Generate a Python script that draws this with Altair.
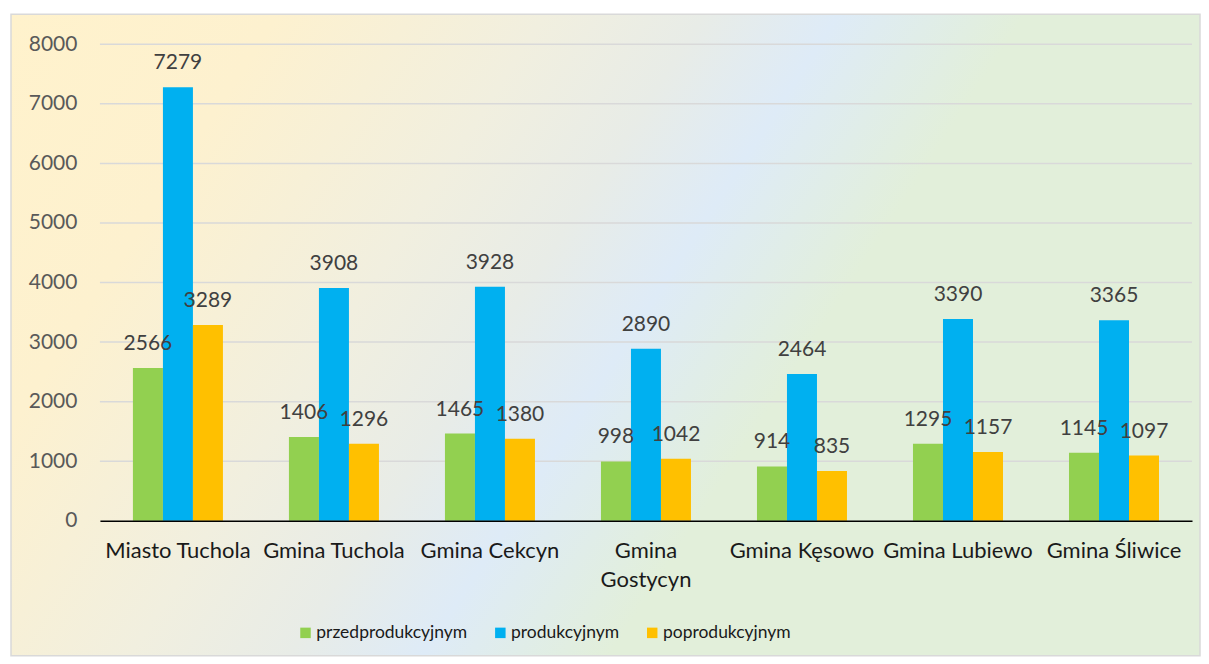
import altair as alt
import pandas as pd

categories = ["Miasto Tuchola", "Gmina Tuchola", "Gmina Cekcyn", "Gmina Gostycyn",
              "Gmina Kęsowo", "Gmina Lubiewo", "Gmina Śliwice"]
series = ["przedprodukcyjnym", "produkcyjnym", "poprodukcyjnym"]
przedprodukcyjnym = [2566, 1406, 1465, 998, 914, 1295, 1145]
produkcyjnym = [7279, 3908, 3928, 2890, 2464, 3390, 3365]
poprodukcyjnym = [3289, 1296, 1380, 1042, 835, 1157, 1097]
colors = ["#92D050", "#00B0F0", "#FFC000"]
y_ticks = [0, 1000, 2000, 3000, 4000, 5000, 6000, 7000, 8000]

rows = []
for s, vals in zip(series, [przedprodukcyjnym, produkcyjnym, poprodukcyjnym]):
    for c, v in zip(categories, vals):
        rows.append({"kategoria": c, "grupa": s, "wartosc": v})
df = pd.DataFrame(rows)
grid_df = pd.DataFrame({"wartosc": y_ticks[1:]})

FONT = "Lato"

bg = alt.Chart(pd.DataFrame({"a": [0]})).mark_rect(
    color=alt.Gradient(
        gradient="linear",
        x1=0, y1=0, x2=1, y2=0.35,
        stops=[
            alt.GradientStop(offset=0, color="#FFF2CC"),
            alt.GradientStop(offset=0.2, color="#FDF1CF"),
            alt.GradientStop(offset=0.4, color="#F1EFDF"),
            alt.GradientStop(offset=0.52, color="#E8ECE7"),
            alt.GradientStop(offset=0.62, color="#DEEBF7"),
            alt.GradientStop(offset=0.76, color="#E2EFDA"),
            alt.GradientStop(offset=1, color="#E2EFDA"),
        ],
    ),
    stroke="#D9D9D9",
    strokeWidth=1.5,
).encode(
    x=alt.value(-89), x2=alt.value(1101), y=alt.value(-30), y2=alt.value(612)
)

y_scale = alt.Scale(domain=[0, 8000], nice=False)
y_axis = alt.Axis(
    values=y_ticks,
    format="d",
    labelFont=FONT,
    labelFontSize=21,
    labelColor="#595959",
    labelPadding=23,
    ticks=False,
    domain=False,
    grid=False,
    zindex=1,
)

grid = alt.Chart(grid_df).mark_rule(color="#D9D9D9", strokeWidth=1.5).encode(
    y=alt.Y("wartosc:Q", scale=y_scale, axis=y_axis, title=None),
    x=alt.value(0),
    x2=alt.value(1093),
)

x_enc = alt.X(
    "kategoria:N",
    sort=categories,
    title=None,
    scale=alt.Scale(paddingInner=0.423, paddingOuter=0.2115),
    axis=alt.Axis(
        labelAngle=0,
        labelFont=FONT,
        labelFontSize=22,
        labelColor="#1A1A1A",
        labelPadding=20,
        labelLineHeight=29,
        labelOverlap=False,
        labelLimit=300,
        ticks=False,
        domainColor="#000000",
        domainWidth=1.5,
        grid=False,
        zindex=1,
        labelExpr="datum.label == 'Gmina Gostycyn' ? ['Gmina', 'Gostycyn'] : datum.label",
    ),
)
y_enc = alt.Y("wartosc:Q", title=None, scale=y_scale, axis=y_axis)
xoff = alt.XOffset("grupa:N", sort=series, scale=alt.Scale(paddingInner=0, paddingOuter=0))

bars = alt.Chart(df).mark_bar().encode(
    x=x_enc,
    xOffset=xoff,
    y=y_enc,
    color=alt.Color(
        "grupa:N",
        sort=series,
        scale=alt.Scale(domain=series, range=colors),
        legend=alt.Legend(
            title=None,
            orient="none",
            legendX=197,
            legendY=580,
            direction="horizontal",
            symbolType="square",
            symbolSize=110,
            symbolStrokeWidth=0,
            labelFont=FONT,
            labelFontSize=17.5,
            labelColor="#1A1A1A",
            labelOffset=2,
            columnPadding=24,
            padding=0,
        ),
    ),
)

labels = alt.Chart(df).mark_text(
    font=FONT, fontSize=21, color="#404040", baseline="middle", dy=-24
).encode(
    x=alt.X("kategoria:N", sort=categories),
    xOffset=alt.XOffset("grupa:N", sort=series),
    y=alt.Y("wartosc:Q", scale=y_scale),
    text=alt.Text("wartosc:Q", format="d"),
)

chart = alt.layer(bg, grid, bars, labels).properties(
    width=1093,
    height=477,
    padding={"left": 2, "top": 5, "right": 0, "bottom": 0},
).configure_view(strokeWidth=0)

chart.save("out.html", embed_options={"renderer": "svg", "actions": False})
